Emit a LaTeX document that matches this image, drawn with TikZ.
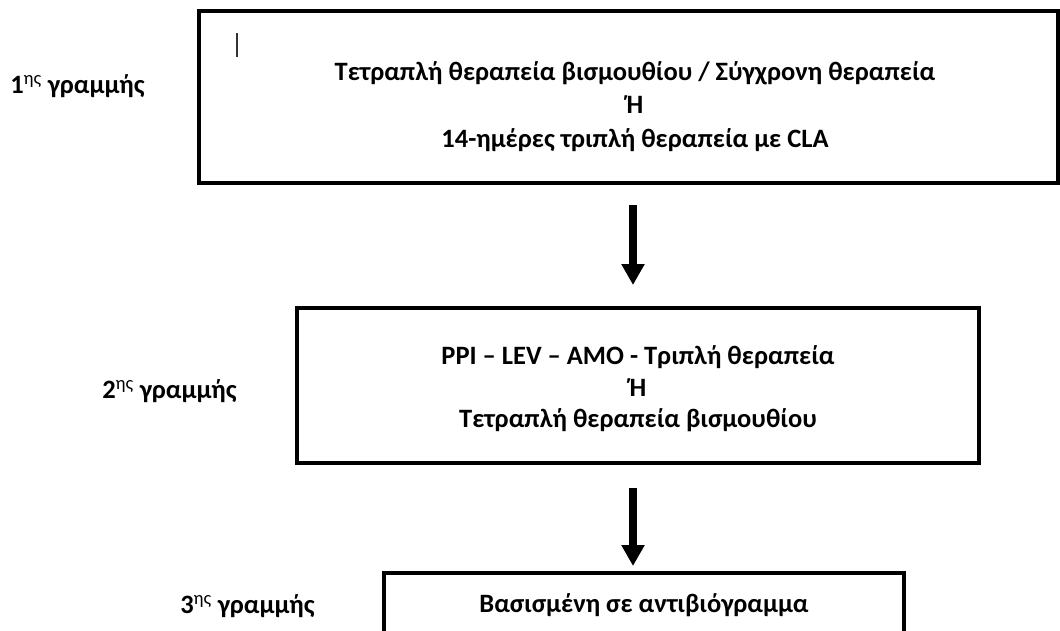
\documentclass[tikz,border=0pt]{standalone}
\usepackage{fontspec}
\setmainfont{Carlito}
\usetikzlibrary{arrows.meta}
\begin{document}
\begin{tikzpicture}[x=1pt,y=-1pt,
  box/.style={draw, line width=3.8pt, inner sep=0pt},
  txtA/.style={font=\bfseries\fontsize{26.5}{33.5}\selectfont, align=center, inner sep=0pt},
  txtB/.style={font=\bfseries\fontsize{26.5}{31.5}\selectfont, align=center, inner sep=0pt},
  lbl/.style={font=\bfseries\fontsize{26.5}{31.5}\selectfont, inner sep=0pt},
  bigarrow/.style={line width=8pt, -{Triangle[width=22pt,length=21pt]}}]
\useasboundingbox (0,0) rectangle (1060,630);
% boxes
\node[box, minimum width=859pt, minimum height=172pt] (b1) at (628.5,97) {};
\node[box, minimum width=682pt, minimum height=155pt] (b2) at (638,385.5) {};
\node[box, minimum width=520pt, minimum height=70pt] (b3) at (644,608) {};
% texts
\node[txtA] (t1) at (635,106.5) {Τετραπλή θεραπεία βισμουθίου / Σύγχρονη θεραπεία\\Ή\\14-ημέρες τριπλή θεραπεία με CLA};
\node[txtB] (t2) at (638,389) {PPI – LEV – AMO - Τριπλή θεραπεία\\Ή\\Τετραπλή θεραπεία βισμουθίου};
\node[txtB] (t3) at (644,605) {Βασισμένη σε αντιβιόγραμμα};
% labels
\node[lbl] (l1) at (77.5,86) {1\textsuperscript{\mdseries ης} γραμμής};
\node[lbl] (l2) at (169.5,391) {2\textsuperscript{\mdseries ης} γραμμής};
\node[lbl] (l3) at (247.5,606) {3\textsuperscript{\mdseries ης} γραμμής};
% small mark
\draw[line width=1.5pt, black!80] (237,33) -- (237,57);
% arrows
\coordinate (a1s) at (633,205);
\coordinate (a1e) at (633,285);
\coordinate (a2s) at (633,488);
\coordinate (a2e) at (633,566);
\draw[bigarrow] (a1s) -- (a1e);
\draw[bigarrow] (a2s) -- (a2e);
\end{tikzpicture}
\end{document}
